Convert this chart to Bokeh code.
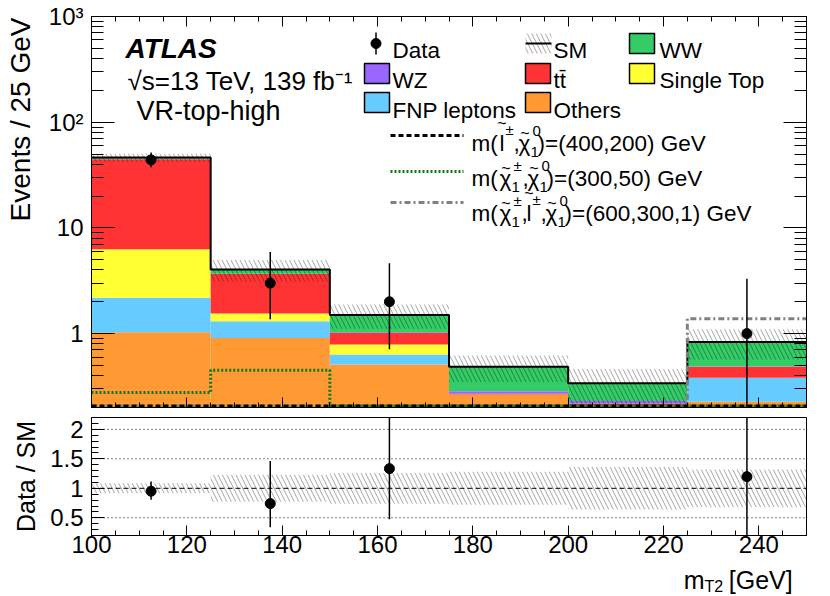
import numpy as np
from bokeh.plotting import figure
from bokeh.models import (Range1d, LinearScale, LinearAxis, LogAxis, FixedTicker,
                          CustomJSTickFormatter, Label, Span)
from bokeh.layouts import column, row
from bokeh.embed import file_html
from bokeh.resources import INLINE
from bokeh.core.properties import value

FONT = "Liberation Sans"

# ---------------- data ----------------
bin_edges = [100, 125, 150, 175, 200, 225, 250]
bkg_others = [1.03, 0.91, 0.51, 0.265, 0.21, 0.227]
bkg_fnp = [1.16, 0.40, 0.124, 0.0, 0.0, 0.155]
bkg_single_top = [4.1, 0.24, 0.153, 0.0, 0.0, 0.0]
bkg_ttbar = [38.4, 2.11, 0.228, 0.005, 0.008, 0.103]
bkg_wz = [0.10, 0.02, 0.015, 0.015, 0.012, 0.005]
bkg_ww = [1.5, 0.37, 0.47, 0.20, 0.11, 0.345]
sm_rel_unc = [0.085, 0.23, 0.26, 0.28, 0.36, 0.32]
data_counts = [44, 3, 2, 0, 0, 1]
data_err_low = [37.4, 1.37, 0.71, 0.0, 0.0, 0.17]
data_err_high = [51.7, 5.92, 4.64, 0.0, 0.0, 3.30]
sig_slep_400_200 = [0.04, 0.05, 0.07, 0.09, 0.10, 0.12]
sig_c1n1_300_50 = [0.277, 0.45, 0.12, 0.06, 0.03, 0.02]
sig_c1slep_600_300_1 = [0.02, 0.03, 0.05, 0.08, 0.12, 1.38]

x_ticks = [100, 120, 140, 160, 180, 200, 220, 240]
y_ticks_main = [1, 10, 100, 1000]
y_tick_labels_main = ["1", "10", "10\u00b2", "10\u00b3"]
y_ticks_ratio = [0.5, 1, 1.5, 2]
y_tick_labels_ratio = ["0.5", "1", "1.5", "2"]

bkg_colors = ["#ff9933", "#66ccff", "#ffff33", "#ff3333", "#9966ff", "#33cc66"]
bkg_values = [bkg_others, bkg_fnp, bkg_single_top, bkg_ttbar, bkg_wz, bkg_ww]

Y_MIN, Y_MAX = 0.2, 1000.0
R_MIN, R_MAX = 0.2, 2.2

# page geometry (pixels)
TITLE_W = 44          # strip holding the rotated y titles
FRAME_L, FRAME_R = 91, 806
MAIN_T, MAIN_B = 16, 407
RAT_T, RAT_B = 417, 535
PAGE_W = 822
XT_T, XT_B = 564, 595

# ---------------- helpers ----------------
def empty_fmt():
    return CustomJSTickFormatter(code="return '';")

def label_fmt(tvals, tlabels):
    return CustomJSTickFormatter(args=dict(tv=tvals, tl=tlabels),
                                 code="const i = tv.indexOf(tick); return i >= 0 ? tl[i] : '';")

def style_axis(ax, major, minor, show_labels, size="24px", standoff=8):
    ax.major_tick_in = major
    ax.major_tick_out = 0
    ax.minor_tick_in = minor
    ax.minor_tick_out = 0
    ax.major_tick_line_color = "black"
    ax.minor_tick_line_color = "black"
    ax.axis_line_color = "black"
    ax.major_label_text_font = FONT
    ax.major_label_text_color = "black"
    if show_labels:
        ax.major_label_text_font_size = size
        ax.major_label_standoff = standoff
    else:
        ax.formatter = empty_fmt()
        ax.major_label_text_font_size = "0px"
        ax.major_label_standoff = 0

def add_label(fig, x, y, text, size, align="left", baseline="alphabetic",
              angle=0.0, style="normal", color="black"):
    fig.add_layout(Label(x=x, y=y, text=text, x_range_name="px", y_range_name="px",
                         text_font=FONT, text_font_size=f"{size}px", text_align=align,
                         text_baseline=baseline, angle=angle, text_font_style=style,
                         text_color=color))

def add_text(fig, x, y, text, size, align="left", baseline="alphabetic", angle=0.0):
    fig.text(x=[x], y=[y], text=[text], angle=angle, text_align=align, text_baseline=baseline,
             text_font=value(FONT), text_font_size=f"{size}px", text_color="black")

def text_fig(w, h, xr_, yr_):
    f = figure(width=w, height=h, x_range=xr_, y_range=yr_, x_axis_type=None, y_axis_type=None,
               min_border=0, output_backend="svg", toolbar_location=None)
    f.outline_line_color = None
    f.background_fill_color = "white"
    f.border_fill_color = "white"
    f.xgrid.visible = False
    f.ygrid.visible = False
    return f

left = np.array(bin_edges[:-1], dtype=float)
right = np.array(bin_edges[1:], dtype=float)
centers = 0.5 * (left + right)

x_minor = list(range(100, 251, 5))
log_minor = [m * 10.0 ** e for e in range(-1, 3) for m in range(2, 10) if m * 10.0 ** e >= Y_MIN]

xr = Range1d(100, 250)

# ---------------- main panel ----------------
p = figure(x_range=xr, y_range=Range1d(Y_MIN, Y_MAX), y_axis_type="log",
           frame_width=FRAME_R - FRAME_L, frame_height=MAIN_B - MAIN_T,
           min_border_left=FRAME_L - TITLE_W, min_border_right=PAGE_W - FRAME_R,
           min_border_top=MAIN_T, min_border_bottom=5,
           output_backend="svg", toolbar_location=None)
p.extra_x_ranges = {"px": Range1d(FRAME_L, FRAME_R)}
p.extra_y_ranges = {"px": Range1d(MAIN_B, MAIN_T)}
p.extra_x_scales = {"px": LinearScale()}
p.extra_y_scales = {"px": LinearScale()}
p.xgrid.visible = False
p.ygrid.visible = False
p.outline_line_color = "black"
p.outline_line_width = 1
p.background_fill_color = "white"
p.border_fill_color = "white"

xa = p.xaxis[0]
xa.ticker = FixedTicker(ticks=x_ticks, minor_ticks=x_minor)
style_axis(xa, 10, 5, False)
ya = p.yaxis[0]
ya.ticker = FixedTicker(ticks=y_ticks_main, minor_ticks=log_minor)
ya.formatter = label_fmt(y_ticks_main, y_tick_labels_main)
style_axis(ya, 23, 12, True)

top_ax = LinearAxis(ticker=FixedTicker(ticks=x_ticks, minor_ticks=x_minor))
style_axis(top_ax, 10, 5, False)
p.add_layout(top_ax, "above")
right_ax = LogAxis(ticker=FixedTicker(ticks=y_ticks_main, minor_ticks=log_minor))
style_axis(right_ax, 23, 12, False)
p.add_layout(right_ax, "right")

# stacked backgrounds
cum = np.zeros(len(left))
for vals, col in zip(bkg_values, bkg_colors):
    v = np.array(vals, dtype=float)
    p.quad(left=left, right=right, bottom=np.maximum(cum, 1e-3), top=np.maximum(cum + v, 1e-3),
           fill_color=col, line_color=None)
    cum = cum + v
total = cum
rel = np.array(sm_rel_unc)

HATCH = dict(hatch_pattern="\\", hatch_color="black", hatch_alpha=0.35, hatch_scale=9, hatch_weight=1)

# uncertainty band
p.quad(left=left, right=right, bottom=total * (1 - rel), top=total * (1 + rel),
       fill_color=None, line_color=None, **HATCH)

# total SM outline
p.step(x=bin_edges, y=list(total) + [total[-1]], mode="after", line_color="black", line_width=2)

# signals (values below the axis are drawn on the lower edge)
floor = Y_MIN * 10 ** (1.5 / 106.8)
sig_specs = [(sig_c1slep_600_300_1, "#808080", "6 3 2 3"),
             (sig_c1n1_300_50, "#0a7a0a", "2 2"),
             (sig_slep_400_200, "black", "5 3")]
for vals, col, dash in sig_specs:
    v = np.maximum(np.array(vals, dtype=float), floor)
    p.step(x=bin_edges, y=list(v) + [v[-1]], mode="after", line_color=col,
           line_width=3, line_dash=dash)

# data
dc = np.array(data_counts, dtype=float)
m = dc > 0
p.segment(x0=centers[m], x1=centers[m], y0=np.array(data_err_low)[m], y1=np.array(data_err_high)[m],
          line_color="black", line_width=1.5)
p.scatter(x=centers[m], y=dc[m], size=10, marker="circle", fill_color="black", line_color="black")

# ---- legend (page pixel coordinates through the "px" ranges) ----
box_l = [629, 364, 525, 629, 364, 525]
box_y = [43, 73, 73, 73, 102, 102]
box_order = [5, 4, 3, 2, 1, 0]   # WW, WZ, ttbar, Single Top, FNP, Others
for bl, by, idx in zip(box_l, box_y, box_order):
    p.quad(left=[bl], right=[bl + 25], top=[by - 10], bottom=[by + 10],
           fill_color=bkg_colors[idx], line_color="black", line_width=1.5,
           x_range_name="px", y_range_name="px")
# Data symbol
p.segment(x0=[375.5], x1=[375.5], y0=[32], y1=[54], line_color="black", line_width=1.5,
          x_range_name="px", y_range_name="px")
p.scatter(x=[375.5], y=[43], size=10, marker="circle", fill_color="black", line_color="black",
          x_range_name="px", y_range_name="px")
# SM symbol
p.quad(left=[525], right=[551], top=[33], bottom=[53], fill_color=None, line_color=None,
       x_range_name="px", y_range_name="px", **HATCH)
p.segment(x0=[525], x1=[551], y0=[43], y1=[43], line_color="black", line_width=2,
          x_range_name="px", y_range_name="px")
# signal line symbols
for yy, (vals, col, dash) in zip([202, 171, 135], sig_specs):
    p.segment(x0=[390], x1=[463], y0=[yy], y1=[yy], line_color=col, line_width=3, line_dash=dash,
              x_range_name="px", y_range_name="px")

LF = 22.5
add_label(p, 392, 50, "Data", LF)
add_label(p, 553, 50, "SM", LF)
add_label(p, 659, 50, "WW", LF)
add_label(p, 392, 80, "WZ", LF)
add_label(p, 553, 80, "tt\u0304", LF)
add_label(p, 659, 80, "Single Top", LF)
add_label(p, 392, 109.5, "FNP leptons", LF)
add_label(p, 553, 109.5, "Others", LF)

# ATLAS block
add_label(p, 125, 48, "ATLAS", 28, style="bold italic")
add_label(p, 127, 80, "\u221as=13 TeV, 139 fb\u207b\u00b9", 26)
add_label(p, 136, 110, "VR-top-high", 27)

# signal legend texts (pieces for tildes, sub- and superscripts)
SS = 15
def chi(x, base, sup, sub):
    add_label(p, x, base, "\u03c7", LF)
    add_label(p, x + 6.5, base - 10, "~", 16, align="center")
    add_label(p, x + 14, base - 13, sup, SS)
    add_label(p, x + 12, base + 8, sub, SS)

def slep(x, base):
    add_label(p, x, base, "l", LF)
    add_label(p, x + 2.5, base - 20, "~", 16, align="center")
    add_label(p, x + 6, base - 14, "\u00b1", SS)

b1 = 143
add_label(p, 471, b1, "m(", LF)
slep(499, b1)
add_label(p, 513, b1, ",", LF)
chi(518, b1, "0", "1")
add_label(p, 537, b1, ")=(400,200) GeV", LF)

b2 = 178
add_label(p, 471, b2, "m(", LF)
chi(499, b2, "\u00b1", "1")
add_label(p, 522, b2, ",", LF)
chi(527, b2, "0", "1")
add_label(p, 546, b2, ")=(300,50) GeV", LF)

b3 = 213
add_label(p, 471, b3, "m(", LF)
chi(499, b3, "\u00b1", "1")
add_label(p, 521, b3, ",", LF)
slep(526, b3)
add_label(p, 540, b3, ",", LF)
chi(545, b3, "0", "1")
add_label(p, 564, b3, ")=(600,300,1) GeV", LF)

# ---------------- ratio panel ----------------
r = figure(x_range=xr, y_range=Range1d(R_MIN, R_MAX),
           frame_width=FRAME_R - FRAME_L, frame_height=RAT_B - RAT_T,
           min_border_left=FRAME_L - TITLE_W, min_border_right=PAGE_W - FRAME_R,
           min_border_top=RAT_T - (MAIN_B + 5), min_border_bottom=XT_T - RAT_B,
           output_backend="svg", toolbar_location=None)
r.xgrid.visible = False
r.ygrid.visible = False
r.outline_line_color = "black"
r.outline_line_width = 1
r.background_fill_color = "white"
r.border_fill_color = "white"

rx = r.xaxis[0]
rx.ticker = FixedTicker(ticks=x_ticks, minor_ticks=x_minor)
style_axis(rx, 10, 5, True, size="24px", standoff=0)
ry = r.yaxis[0]
ry.ticker = FixedTicker(ticks=y_ticks_ratio, minor_ticks=[round(0.2 + 0.1 * i, 1) for i in range(21)])
ry.formatter = label_fmt(y_ticks_ratio, y_tick_labels_ratio)
style_axis(ry, 13, 7, True)

# reference lines
for yv in [0.5, 1.5, 2.0]:
    r.add_layout(Span(location=yv, dimension="width", line_color="black", line_width=1, line_dash="1 3"))
r.add_layout(Span(location=1.0, dimension="width", line_color="black", line_width=1, line_dash="5 3"))

# band
r.quad(left=left, right=right, bottom=1 - rel, top=1 + rel, fill_color=None, line_color=None, **HATCH)

ratio = dc[m] / total[m]
r.segment(x0=centers[m], x1=centers[m], y0=np.array(data_err_low)[m] / total[m],
          y1=np.array(data_err_high)[m] / total[m], line_color="black", line_width=1.5)
r.scatter(x=centers[m], y=ratio, size=10, marker="circle", fill_color="black", line_color="black")

# ---------------- title strips ----------------
yt = text_fig(TITLE_W, XT_B, Range1d(0, TITLE_W), Range1d(XT_B, 0))
add_text(yt, 20, 17, "Events / 25 GeV", 28, align="right", baseline="middle", angle=np.pi / 2)
add_text(yt, 25, 476, "Data / SM", 25, align="center", baseline="middle", angle=np.pi / 2)

xt = text_fig(PAGE_W - TITLE_W, XT_B - XT_T, Range1d(TITLE_W, PAGE_W), Range1d(XT_B, XT_T))
add_text(xt, 711, 579.5, "m", 25, align="right", baseline="middle")
add_text(xt, 711, 586, "T2", 16, baseline="middle")
add_text(xt, 807, 579.5, "[GeV]", 25, align="right", baseline="middle")

layout = row(yt, column(p, r, xt))
open("out.html", "w").write(file_html(layout, INLINE, title="mT2 VR-top-high"))
